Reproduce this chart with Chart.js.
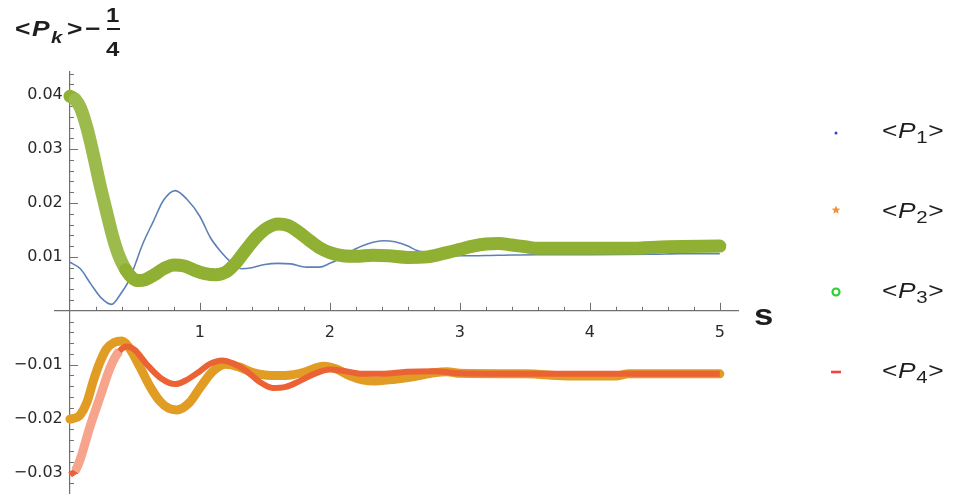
<!DOCTYPE html>
<html><head><meta charset="utf-8">
<script src="https://cdn.jsdelivr.net/npm/chart.js@4"></script>
<style>
html,body{margin:0;padding:0;background:#fff;}
#wrap{position:relative;width:954px;height:502px;overflow:hidden;font-family:"Liberation Sans",Arial,Helvetica,sans-serif;color:#222;}
#c{position:absolute;left:0;top:0;}
.g{position:absolute;white-space:nowrap;line-height:1;transform:scaleX(1.2);transform-origin:0 0;color:#1e1e1e;}
.tb{font-weight:bold;font-size:22px;}
.tk{font-weight:bold;font-style:italic;font-size:17px;}
.tf{font-weight:bold;font-size:20px;}
#bar{position:absolute;left:107px;top:28px;width:13px;height:2px;background:#1e1e1e;}
#slabel{font-weight:bold;font-size:29px;}
.lt{font-size:22px;letter-spacing:0.5px;}
.lt sub{font-size:17px;vertical-align:-5px;line-height:0;}
.lm{position:absolute;left:826px;width:20px;height:20px;}
</style></head><body>
<div id="wrap">
<canvas id="c" width="954" height="502"></canvas>
<span class="g tb" style="left:15px;top:18px">&lt;</span>
<span class="g tb" style="left:32px;top:18px"><i>P</i></span>
<span class="g tk" style="left:51px;top:29px">k</span>
<span class="g tb" style="left:67px;top:18px">&gt;</span>
<span class="g tb" style="left:85px;top:18px">&minus;</span>
<span class="g tf" style="left:106px;top:5px">1</span>
<div id="bar"></div>
<span class="g tf" style="left:106px;top:39px">4</span>
<span class="g" id="slabel" style="left:754px;top:301px">s</span>
<svg class="lm" style="top:123px" viewBox="0 0 20 20"><circle cx="10" cy="10" r="1.5" fill="#3040dd"/></svg>
<span class="g lt" style="left:882px;top:120px">&lt;<i>P</i><sub>1</sub>&gt;</span>
<svg class="lm" style="top:200px" viewBox="0 0 20 20"><polygon points="10,5.5 11.2,8.6 14.3,8.7 11.9,10.7 12.7,13.8 10,12 7.3,13.8 8.1,10.7 5.7,8.7 8.8,8.6" fill="#f3903a"/></svg>
<span class="g lt" style="left:882px;top:200px">&lt;<i>P</i><sub>2</sub>&gt;</span>
<svg class="lm" style="top:282px" viewBox="0 0 20 20"><circle cx="10" cy="10" r="3.5" fill="none" stroke="#2ecf2e" stroke-width="2.2"/></svg>
<span class="g lt" style="left:882px;top:280px">&lt;<i>P</i><sub>3</sub>&gt;</span>
<svg class="lm" style="top:362px" viewBox="0 0 20 20"><rect x="5" y="8.7" width="10" height="2.6" fill="#f04444"/></svg>
<span class="g lt" style="left:882px;top:360px">&lt;<i>P</i><sub>4</sub>&gt;</span>
</div>
<script>
// ---- data ----
const P1_s = [0,0.08,0.16,0.24,0.32,0.40,0.44,0.48,0.56,0.64,0.72,0.81,0.90,1.00,1.08,1.16,1.24,1.32,1.40,1.50,1.60,1.70,1.82,1.92,2.00,2.08,2.20,2.30,2.41,2.50,2.60,2.67,2.80,2.90,3.00,3.30,3.60,4.00,4.50,4.70,5.00];
const P1_v = [0.0090,0.0078,0.0050,0.0024,0.0012,0.0035,0.0050,0.0072,0.0124,0.0165,0.0205,0.0223,0.0207,0.0175,0.0136,0.0110,0.0090,0.0078,0.0080,0.0086,0.0088,0.0087,0.0081,0.0081,0.0088,0.0097,0.0115,0.0125,0.0130,0.0128,0.0120,0.0112,0.0106,0.0103,0.0102,0.0103,0.0104,0.0104,0.0105,0.0106,0.0106];

const P2_s = [0,0.05,0.08,0.13,0.18,0.23,0.28,0.34,0.40,0.46,0.54,0.62,0.69,0.76,0.82,0.92,1.00,1.10,1.20,1.30,1.40,1.50,1.60,1.70,1.80,1.95,2.05,2.15,2.25,2.35,2.50,2.65,2.80,2.90,3.00,3.50,3.87,4.20,4.30,5.00];
const P2_v = [-0.0201,-0.0198,-0.0193,-0.0170,-0.0130,-0.0096,-0.0071,-0.0059,-0.0056,-0.0070,-0.0105,-0.0142,-0.0167,-0.0181,-0.0184,-0.0170,-0.0143,-0.0112,-0.0099,-0.0104,-0.0114,-0.0119,-0.0120,-0.0119,-0.0114,-0.0103,-0.0108,-0.0120,-0.0128,-0.0130,-0.0127,-0.0122,-0.0115,-0.0113,-0.0116,-0.0117,-0.0121,-0.0121,-0.0117,-0.0117];

const P3_s = [0,0.04,0.08,0.13,0.18,0.23,0.28,0.33,0.38,0.43,0.48,0.53,0.58,0.65,0.72,0.80,0.88,0.96,1.04,1.12,1.20,1.28,1.36,1.44,1.52,1.60,1.68,1.76,1.84,1.92,2.00,2.10,2.20,2.33,2.45,2.60,2.75,2.90,3.00,3.10,3.20,3.30,3.40,3.50,3.60,3.80,4.00,4.30,4.60,5.00];
const P3_v = [0.0398,0.0392,0.0377,0.0340,0.0290,0.0235,0.0185,0.0137,0.0100,0.0076,0.0061,0.0056,0.0058,0.0067,0.0078,0.0085,0.0083,0.0075,0.0069,0.0067,0.0072,0.0090,0.0115,0.0138,0.0154,0.0161,0.0158,0.0146,0.0131,0.0117,0.0108,0.0102,0.0101,0.0103,0.0102,0.0099,0.0100,0.0108,0.0114,0.0120,0.0124,0.0125,0.0122,0.0119,0.0116,0.0116,0.0116,0.0116,0.0119,0.0120];

const P4_s = [0,0.04,0.08,0.15,0.23,0.31,0.38,0.44,0.50,0.59,0.70,0.81,0.90,1.00,1.08,1.17,1.26,1.36,1.46,1.56,1.66,1.77,1.88,2.00,2.12,2.25,2.40,2.59,2.80,3.00,3.50,4.00,4.50,5.00];
const P4_v = [-0.0304,-0.0297,-0.0275,-0.0218,-0.0161,-0.0105,-0.0075,-0.0066,-0.0073,-0.0099,-0.0125,-0.0136,-0.0128,-0.0112,-0.0098,-0.0092,-0.0098,-0.0112,-0.0132,-0.0143,-0.0141,-0.0130,-0.0117,-0.0109,-0.0112,-0.0117,-0.0117,-0.0113,-0.0112,-0.0116,-0.0117,-0.0117,-0.0117,-0.0117];

const xTickValues = [1,2,3,4,5];
const xTickLabels = ['1','2','3','4','5'];
const yTickValues = [-0.03,-0.02,-0.01,0.01,0.02,0.03,0.04];
const yTickLabels = ['\u22120.03','\u22120.02','\u22120.01','0.01','0.02','0.03','0.04'];
const xMinorStep = 0.2, xMinorMax = 5;
const yMinorStep = 0.002, yMinorMin = -0.032, yMinorMax = 0.044;
const X_MIN = -0.115, X_MAX = 5.14, Y_MIN = -0.0338, Y_MAX = 0.0443;
const Y_LABEL_GAP = -0.055;   // y labels sit a little left of the y axis

const AXIS = '#707070';
const toPts = (s, v) => s.map((x, i) => ({x: x, y: v[i]}));
// sparse markers on steep stretches look lighter in the original
const isSteep = (c) => {
  const dx = Math.abs(c.p1.x - c.p0.x) || 1e-6;
  return Math.abs(c.p1.y - c.p0.y) / dx > 1.5;
};
const steep = (light, base) => (c) => isSteep(c) ? light : base;

const axisTicks = {
  id: 'axisTicks',
  beforeDatasetsDraw(chart) {
    const {ctx, scales: {x, y}} = chart;
    const x0 = x.getPixelForValue(0), y0 = y.getPixelForValue(0);
    ctx.save();
    ctx.strokeStyle = AXIS; ctx.lineWidth = 1;
    ctx.beginPath();
    const nx = Math.round(xMinorMax / xMinorStep);
    for (let k = 1; k <= nx; k++) {
      const px = Math.round(x.getPixelForValue(k * xMinorStep)) + 0.5;
      const len = (k % 5 === 0) ? 8 : 4;
      ctx.moveTo(px, y0); ctx.lineTo(px, y0 - len);
    }
    const kmin = Math.round(yMinorMin / yMinorStep), kmax = Math.round(yMinorMax / yMinorStep);
    for (let k = kmin; k <= kmax; k++) {
      if (k === 0) continue;
      const py = Math.round(y.getPixelForValue(k * yMinorStep)) + 0.5;
      const len = (k % 5 === 0) ? 8 : 4;
      ctx.moveTo(x0, py); ctx.lineTo(x0 + len, py);
    }
    ctx.stroke();
    ctx.restore();
  }
};

const tickFont = {family: '"DejaVu Sans", Verdana, sans-serif', size: 16};

new Chart(document.getElementById('c'), {
  type: 'scatter',
  data: {
    datasets: [
      {label: '<P1>', data: toPts(P1_s, P1_v), borderColor: '#5E81B5', borderWidth: 1.6, order: 4},
      {label: '<P2>', data: toPts(P2_s, P2_v), borderColor: '#E19C24', borderWidth: 9, order: 3, borderCapStyle: 'round'},
      {label: '<P3>', data: toPts(P3_s, P3_v), borderColor: '#8FB032', borderWidth: 13, order: 2, borderCapStyle: 'round',
        segment: {borderColor: steep('#9CBB4C', '#8FB032')}},
      {label: '<P4>', data: toPts(P4_s, P4_v), borderColor: '#EB6235', borderWidth: 6, order: 1, borderCapStyle: 'butt',
        segment: {borderColor: steep('#F6A48C', '#EB6235'), borderWidth: (c) => isSteep(c) ? 9 : 6}}
    ].map(d => Object.assign({showLine: true, pointRadius: 0, pointHoverRadius: 0, cubicInterpolationMode: 'monotone', borderJoinStyle: 'round', clip: false, backgroundColor: d.borderColor, yAxisID: 'y'}, d))
  },
  options: {
    responsive: false,
    animation: false,
    devicePixelRatio: 1,
    layout: {padding: {left: 55, right: 216, top: 72, bottom: 9}},
    plugins: {legend: {display: false}, tooltip: {enabled: false}, title: {display: false}},
    scales: {
      x: {
        type: 'linear', min: X_MIN, max: X_MAX, position: {y: 0},
        grid: {display: false},
        border: {display: true, color: AXIS, width: 1.2},
        afterBuildTicks: (s) => { s.ticks = xTickValues.map(v => ({value: v})); },
        afterFit: (s) => { s.height = 0; s.paddingLeft = 0; s.paddingRight = 0; },
        ticks: {font: tickFont, color: '#2a2a2a', padding: 4, maxRotation: 0, autoSkip: false,
          callback: (v, i) => xTickLabels[i]}
      },
      y: {
        type: 'linear', min: Y_MIN, max: Y_MAX, position: {x: 0},
        grid: {display: false},
        border: {display: true, color: AXIS, width: 1.2},
        afterFit: (s) => { s.width = 0; s.paddingTop = 0; s.paddingBottom = 0; },
        ticks: {display: false}
      },
      yl: {
        type: 'linear', min: Y_MIN, max: Y_MAX, position: {x: Y_LABEL_GAP},
        grid: {display: false},
        border: {display: false},
        afterBuildTicks: (s) => { s.ticks = yTickValues.map(v => ({value: v})); },
        afterFit: (s) => { s.width = 0; s.paddingTop = 0; s.paddingBottom = 0; },
        ticks: {font: tickFont, color: '#2a2a2a', padding: 0, autoSkip: false,
          callback: (v, i) => yTickLabels[i]}
      }
    }
  },
  plugins: [axisTicks]
});
</script>
</body></html>
